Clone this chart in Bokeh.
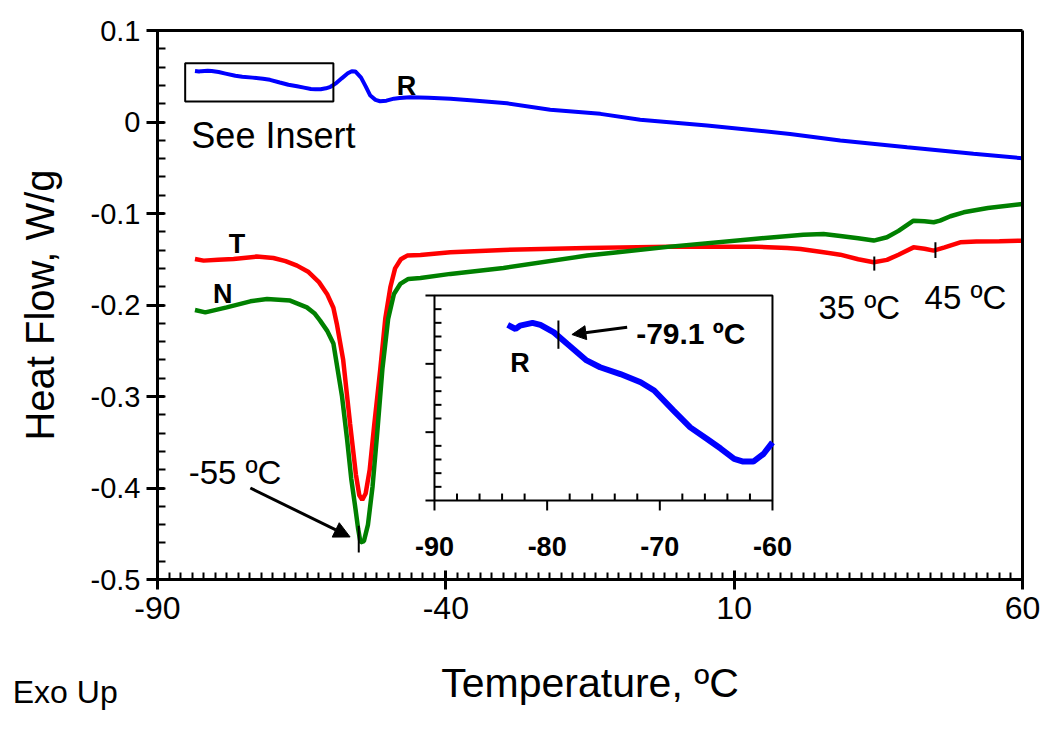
from bokeh.plotting import figure
from bokeh.models import (Range1d, FixedTicker, CustomJSTickFormatter, Label,
                          Arrow, NormalHead, LinearAxis)
from bokeh.embed import file_html
from bokeh.resources import INLINE
from bokeh.core.properties import value

FONT = "Liberation Sans"

# ---------------- data ----------------
# R (blue) heat flow curve, W/g
R_T = [-83.5, -82.8, -82.4, -81.3, -80.6, -79.4, -78.2, -76.5, -75.3, -73.5,
       -71.7, -70.5, -68.8, -67.3, -65.8, -64.6, -63.4, -62.6, -61.7, -60.8,
       -60.0, -59.0, -58.0, -57.0, -56.3, -55.7, -54.7, -53.9, -53.1, -52.2,
       -51.4, -50.3, -49.0, -48.0, -46.2, -43.0, -39.2, -35.2, -29.4, -21.9,
       -13.2, -6.3, 5.3, 19.7, 28.4, 40.0, 51.5, 60.0]
R_V = [0.0557, 0.0551, 0.0556, 0.0560, 0.0557, 0.0546, 0.0529, 0.0505, 0.0495, 0.0485,
       0.0473, 0.0461, 0.0432, 0.0407, 0.0390, 0.0376, 0.0361, 0.0357, 0.0357, 0.0368,
       0.0385, 0.0425, 0.0480, 0.0532, 0.0555, 0.0553, 0.0485, 0.0390, 0.0289, 0.0242,
       0.0227, 0.0233, 0.0255, 0.0262, 0.0271, 0.0265, 0.0253, 0.0235, 0.0205, 0.0133,
       0.0089, 0.0024, -0.0039, -0.0130, -0.0203, -0.0276, -0.0348, -0.0396]

# T (red) heat flow curve, W/g
T_T = [-83.5, -82.0, -79.5, -76.8, -72.8, -69.9, -67.8, -65.8, -63.8, -62.0,
       -60.6, -59.5, -58.9, -57.8, -56.6, -55.6, -55.0, -54.5, -53.9, -53.2,
       -52.4, -51.4, -50.5, -49.6, -48.8, -47.8, -46.7, -44.4, -39.2, -30.0,
       -15.5, -1.1, 13.4, 19.2, 21.5, 24.9, 28.4, 31.5, 34.2, 36.5,
       38.5, 41.1, 43.0, 44.6, 46.5, 49.2, 52.0, 56.0, 60.0]
T_V = [-0.1497, -0.1515, -0.1505, -0.1497, -0.1471, -0.1486, -0.1520, -0.1570, -0.1640, -0.1750,
       -0.1879, -0.2030, -0.2207, -0.2600, -0.3300, -0.3850, -0.4080, -0.4130, -0.4060, -0.3800,
       -0.3300, -0.2720, -0.2150, -0.1800, -0.1600, -0.1500, -0.1460, -0.1453, -0.1424, -0.1398,
       -0.1376, -0.1362, -0.1362, -0.1376, -0.1387, -0.1417, -0.1450, -0.1500, -0.1533, -0.1507,
       -0.1450, -0.1370, -0.1385, -0.1406, -0.1370, -0.1315, -0.1305, -0.1302, -0.1297]

# N (green) heat flow curve, W/g
N_T = [-83.5, -81.7, -78.0, -73.9, -71.0, -67.0, -64.1, -62.8, -61.8, -60.6,
       -59.5, -58.0, -57.1, -56.4, -55.7, -55.2, -54.8, -54.2, -53.5, -52.7,
       -51.9, -51.0, -50.0, -49.0, -47.9, -46.5, -44.4, -39.2, -30.0, -15.5,
       -1.1, 13.4, 22.0, 25.5, 28.4, 31.5, 34.2, 36.5, 38.5, 41.1,
       43.0, 44.6, 45.7, 47.5, 49.8, 54.0, 60.0]
N_V = [-0.2054, -0.2080, -0.2026, -0.1960, -0.1934, -0.1952, -0.2026, -0.2090, -0.2171, -0.2280,
       -0.2420, -0.3000, -0.3480, -0.3900, -0.4213, -0.4450, -0.4595, -0.4580, -0.4400, -0.3980,
       -0.3400, -0.2700, -0.2150, -0.1880, -0.1770, -0.1715, -0.1704, -0.1660, -0.1595, -0.1460,
       -0.1362, -0.1278, -0.1231, -0.1223, -0.1245, -0.1270, -0.1296, -0.1260, -0.1190, -0.1078,
       -0.1085, -0.1096, -0.1078, -0.1030, -0.0987, -0.0940, -0.0895]

# axis ticks
X_TICKS = [-90, -40, 10, 60]
X_MINOR = list(range(-90, 61, 2))
Y_TICKS = [-0.5, -0.4, -0.3, -0.2, -0.1, 0.0, 0.1]
Y_MINOR = [round(-0.5 + 0.02 * i, 2) for i in range(31)]

# inset ticks
IX_TICKS = [-90, -80, -70, -60]
IX_LABELS = ["-90", "-80", "-70", "-60"]
IX_MINOR = [t for t in range(-90, -59, 2) if t not in IX_TICKS]
IY_TICKS = [0.03, 0.04, 0.05, 0.06]
IY_MINOR = [round(0.03 + 0.002 * i, 3) for i in range(16)]
IY_MINOR = [t for t in IY_MINOR if t not in IY_TICKS]

# inset subset of the R curve
RI_T = [t for t in R_T if t <= -60.0]
RI_V = [v for t, v in zip(R_T, R_V) if t <= -60.0]

# ---------------- figure ----------------
# The plotting frame fills the whole canvas; the axes sit at fixed data locations
# so that annotations such as "Exo Up" may lie outside the axes box.
W, H = 1048, 738
p = figure(width=W, height=H, output_backend="svg", toolbar_location=None,
           x_range=Range1d(-117.225, 64.509), y_range=Range1d(-0.67377, 0.13279),
           min_border=0, x_axis_location=None, y_axis_location=None)
p.grid.visible = False
p.background_fill_color = "white"
p.border_fill_color = "white"
p.outline_line_color = None

def style_axis(ax):
    ax.axis_line_width = 3
    ax.major_tick_line_width = 3
    ax.minor_tick_line_width = 2
    ax.major_label_text_font = FONT
    ax.major_label_text_color = "black"
    ax.axis_label_text_font = FONT
    ax.axis_label_text_font_style = "normal"
    ax.axis_label_text_color = "black"

xa = LinearAxis(fixed_location=-0.5, bounds=(-90, 60))
style_axis(xa)
xa.ticker = FixedTicker(ticks=X_TICKS, minor_ticks=X_MINOR)
xa.formatter = CustomJSTickFormatter(code="return tick.toFixed(0);")
xa.major_tick_in = 9
xa.major_tick_out = 10
xa.minor_tick_in = 7
xa.minor_tick_out = 0
xa.major_label_text_font_size = "32px"
xa.major_label_standoff = 7
xa.axis_label = "Temperature, ºC"
xa.axis_label_text_font_size = "41px"
xa.axis_label_standoff = 38
p.add_layout(xa, "below")

ya = LinearAxis(fixed_location=-90, bounds=(-0.5, 0.1))
style_axis(ya)
ya.ticker = FixedTicker(ticks=Y_TICKS, minor_ticks=Y_MINOR)
ya.formatter = CustomJSTickFormatter(
    code="return Math.abs(tick) < 1e-9 ? '0' : tick.toFixed(1);")
ya.major_tick_in = 7
ya.major_tick_out = 11
ya.minor_tick_in = 8
ya.minor_tick_out = 0
ya.major_label_text_font_size = "29px"
ya.major_label_standoff = 6
ya.axis_label = "Heat Flow, W/g"
ya.axis_label_text_font_size = "40px"
ya.axis_label_standoff = 26
p.add_layout(ya, "left")

# top and right border lines of the axes box
for side, loc, bnds in (("above", 0.1, (-90, 60)), ("right", 60, (-0.5, 0.1))):
    bx = LinearAxis(fixed_location=loc, bounds=bnds, ticker=FixedTicker(ticks=[]),
                    axis_line_width=3, major_tick_line_color=None,
                    minor_tick_line_color=None, major_label_text_font_size="0px")
    p.add_layout(bx, side)

# main curves
p.line(T_T, T_V, line_color="#ff0000", line_width=4.5)
p.line(N_T, N_V, line_color="#008000", line_width=4.5)
p.line(R_T, R_V, line_color="#0000ff", line_width=4)

# "See Insert" box
p.quad(left=[-85.2], right=[-59.5], top=[0.0643], bottom=[0.0225],
       fill_color=None, line_color="black", line_width=2)

def lab(x, y, text, size, bold=False, align="center", xr="default", yr="default"):
    p.add_layout(Label(x=x, y=y, text=text, text_font=FONT, text_font_size=size,
                       text_font_style="bold" if bold else "normal",
                       text_align=align, text_baseline="middle", text_color="black",
                       x_range_name=xr, y_range_name=yr))

lab(-69.9, -0.0148, "See Insert", "36px")
lab(-46.8, 0.0395, "R", "27px", bold=True)
lab(-76.2, -0.1333, "T", "27px", bold=True)
lab(-78.7, -0.1880, "N", "27px", bold=True)
lab(-84.6, -0.3830, "-55 ºC", "33px", align="left")
lab(31.7, -0.2029, "35 ºC", "33px")
lab(50.1, -0.1920, "45 ºC", "33px")
lab(-115.1, -0.6230, "Exo Up", "32px", align="left")

# markers on curves
p.segment(x0=[-55.1, 34.3, 44.9], y0=[-0.4413, -0.1470, -0.1315],
          x1=[-55.1, 34.3, 44.9], y1=[-0.4705, -0.1624, -0.1486],
          line_color="black", line_width=2)
p.add_layout(Arrow(end=NormalHead(size=16, fill_color="black", line_color="black"),
                   x_start=-73.9, y_start=-0.400, x_end=-56.6, y_end=-0.4535,
                   line_color="black", line_width=3))

# ---------------- inset (own ranges mapped onto a sub-rectangle) ----------------
p.extra_x_ranges = {"ix": Range1d(-128.52, -35.50)}
p.extra_y_ranges = {"iy": Range1d(-0.004829, 0.10317)}
IK = dict(x_range_name="ix", y_range_name="iy")

p.quad(left=[-90], right=[-60], bottom=[0.03], top=[0.06], fill_color=None,
       line_color="black", line_width=2, **IK)
p.segment(x0=IX_TICKS, y0=[0.03] * 4, x1=IX_TICKS, y1=[0.03 - 0.00146] * 4,
          line_color="black", line_width=2, **IK)
p.segment(x0=IX_MINOR, y0=[0.03] * len(IX_MINOR), x1=IX_MINOR,
          y1=[0.03 + 0.00102] * len(IX_MINOR), line_color="black", line_width=2, **IK)
p.segment(x0=[-90] * 4, y0=IY_TICKS, x1=[-90 - 0.8] * 4, y1=IY_TICKS,
          line_color="black", line_width=2, **IK)
p.segment(x0=[-90] * len(IY_MINOR), y0=IY_MINOR, x1=[-90 + 0.62] * len(IY_MINOR),
          y1=IY_MINOR, line_color="black", line_width=2, **IK)
p.text(x=IX_TICKS, y=[0.0233] * 4, text=IX_LABELS, text_font=value(FONT),
       text_font_size="27px", text_font_style="bold", text_align="center",
       text_baseline="middle", text_color="black", **IK)

p.line(RI_T, RI_V, line_color="#0000ff", line_width=6, **IK)
lab(-82.4, 0.05005, "R", "27px", bold=True, xr="ix", yr="iy")
lab(-72.1, 0.05444, "-79.1 ºC", "30px", bold=True, align="left", xr="ix", yr="iy")
p.segment(x0=[-79.0], y0=[0.05634], x1=[-79.0], y1=[0.0522],
          line_color="black", line_width=2, **IK)
p.add_layout(Arrow(end=NormalHead(size=14, fill_color="black", line_color="black"),
                   x_start=-72.9, y_start=0.05536, x_end=-77.8, y_end=0.05429,
                   line_color="black", line_width=3, **IK))

open("out.html", "w").write(file_html(p, INLINE))
